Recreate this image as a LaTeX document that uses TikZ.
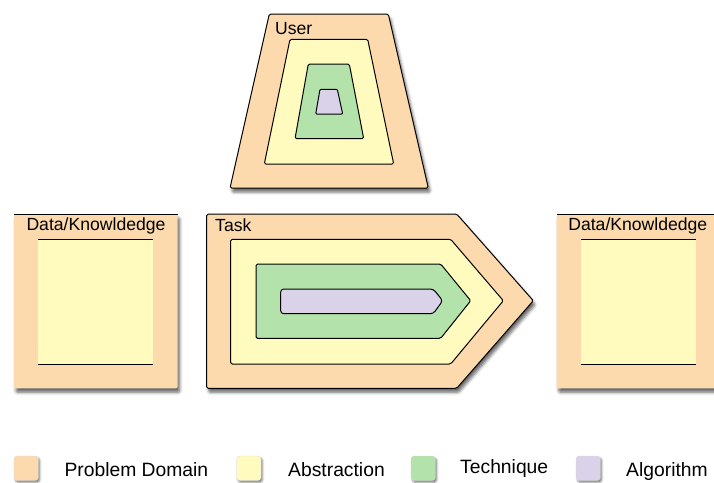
\documentclass[tikz,border=0pt]{standalone}
\usepackage{fontspec}
\setmainfont{Liberation Sans}
\usetikzlibrary{shadows.blur}

\definecolor{domaincol}{RGB}{252,218,174}
\definecolor{abstrcol}{RGB}{255,251,190}
\definecolor{techcol}{RGB}{179,226,170}
\definecolor{algocol}{RGB}{218,210,233}

\tikzset{
  ringline/.style={draw=black, line width=1pt, rounded corners=1.5pt, line join=round},
  domainring/.style={ringline, fill=domaincol, blur shadow={shadow xshift=2pt, shadow yshift=-4pt, shadow blur radius=3pt, shadow opacity=60}},
  abstrring/.style={ringline, fill=abstrcol},
  techring/.style={ringline, fill=techcol},
  algoring/.style={ringline, fill=algocol, rounded corners=3pt},
  boxlabel/.style={inner sep=0pt, font=\fontsize{17.6}{20}\selectfont},
  swatch/.style={fill=#1, draw=black!15, line width=0.3pt, rounded corners=3pt, blur shadow={shadow xshift=1.5pt, shadow yshift=-2pt, shadow blur radius=2pt, shadow opacity=50}},
  legtext/.style={inner sep=0pt, anchor=base west, font=\fontsize{19.3}{22}\selectfont}
}

\begin{document}
\begin{tikzpicture}[x=1pt, y=-1pt]
\useasboundingbox (0,0) rectangle (714,482);

% user
\draw[domainring] (269.3,14) -- (388.3,14) -- (428.3,188) -- (230,188) -- cycle;
\draw[abstrring] (290,39.3) -- (367.7,39.3) -- (393.7,164) -- (264.3,164) -- cycle;
\draw[techring] (308.3,64) -- (349.3,64) -- (363.7,138.7) -- (295,138.7) -- cycle;
\draw[algoring, rounded corners=1pt] (320,89.3) -- (337.3,89.3) -- (342.7,114) -- (315.7,114) -- cycle;
\node[boxlabel, anchor=base west] (user) at (275,34) {User};

% data / knowledge, left
\fill[domainring, draw=none] (14,214) rectangle (177.7,388.3);
\draw[line width=1pt] (14,214) -- (177.7,214);
\fill[abstrcol] (38.3,239.3) rectangle (153.3,364.3);
\draw[line width=1pt] (38.3,239.3) -- (153.3,239.3);
\draw[line width=1pt] (38.3,364.3) -- (153.3,364.3);
\node[boxlabel, anchor=base] (datain) at (96,230.7) {Data/Knowldedge};

% task
\draw[domainring] (206.7,214) -- (456.7,214) -- (533.3,300.7) -- (456.7,388.3) -- (206.7,388.3) -- cycle;
\draw[abstrring] (230.7,239.3) -- (450.7,239.3) -- (503.3,300.7) -- (450.7,364) -- (230.7,364) -- cycle;
\draw[techring] (256,264) -- (440.7,264) -- (470.7,300.7) -- (440.7,338.3) -- (256,338.3) -- cycle;
\draw[algoring] (280.7,289) -- (433.3,289) -- (442.7,300.7) -- (433.3,313.7) -- (280.7,313.7) -- cycle;
\node[boxlabel, anchor=base west] (task) at (215,231.7) {Task};

% data / knowledge, right
\fill[domainring, draw=none] (556.7,214) rectangle (720.4,388.3);
\draw[line width=1pt] (556.7,214) -- (720.4,214);
\fill[abstrcol] (581,239.3) rectangle (696,364.3);
\draw[line width=1pt] (581,239.3) -- (696,239.3);
\draw[line width=1pt] (581,364.3) -- (696,364.3);
\node[boxlabel, anchor=base] (dataout) at (637.8,230.7) {Data/Knowldedge};

% legend
\draw[swatch=domaincol] (14,456) rectangle (38.3,480.5);
\node[legtext] (legdomain) at (64.3,476) {Problem Domain};
\draw[swatch=abstrcol] (236.7,456) rectangle (261,480.5);
\node[legtext] (legabstr) at (288,476) {Abstraction};
\draw[swatch=techcol] (411,456) rectangle (435.3,480.5);
\node[legtext] (legtechn) at (460,473.3) {Technique};
\draw[swatch=algocol] (576,456) rectangle (600.3,480.5);
\node[legtext] (legalgo) at (626,476) {Algorithm};
\end{tikzpicture}
\end{document}
